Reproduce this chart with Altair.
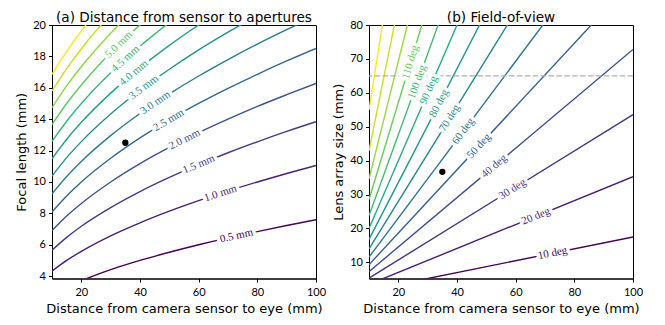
import altair as alt
import pandas as pd

# ---------------- (a) Distance from sensor to apertures ----------------
DIST = [10, 15, 20, 30, 40, 50, 60, 70, 80, 90, 100]
MM_LEVELS = [0.5, 1.0, 1.5, 2.0, 2.5, 3.0, 3.5, 4.0, 4.5, 5.0, 5.5, 6.0, 6.5]
FOCAL_05 = [2.79, 3.28, 3.70, 4.41, 5.00, 5.52, 6.00, 6.44, 6.84, 7.23, 7.59]
FOCAL_10 = [4.32, 5.00, 5.58, 6.57, 7.40, 8.14, 8.81, 9.43, 10.00, 10.54, 11.05]
FOCAL_15 = [5.65, 6.47, 7.18, 8.37, 9.39, 10.29, 11.10, 11.86, 12.56, 13.22, 13.84]
FOCAL_20 = [6.90, 7.83, 8.63, 10.00, 11.17, 12.20, 13.14, 14.00, 14.81, 15.56, 16.28]
FOCAL_25 = [8.09, 9.11, 10.00, 11.51, 12.81, 13.96, 15.00, 15.96, 16.86, 17.71, 18.51]
FOCAL_30 = [9.24, 10.35, 11.31, 12.95, 14.36, 15.61, 16.75, 17.80, 18.78, 19.70, 20.58]
FOCAL_35 = [10.37, 11.55, 12.57, 14.33, 15.84, 17.18, 18.41, 19.54, 20.60]
FOCAL_40 = [11.48, 12.72, 13.80, 15.66, 17.27, 18.70, 20.00, 21.20]
FOCAL_45 = [12.58, 13.87, 15.00, 16.96, 18.65, 20.16]
FOCAL_50 = [13.66, 15.00, 16.18, 18.23, 20.00, 21.58]
FOCAL_55 = [14.73, 16.12, 17.34, 19.47, 21.32]
FOCAL_60 = [15.80, 17.22, 18.49, 20.70]
FOCAL_65 = [16.86, 18.32, 19.62, 21.90]
FOCAL_CURVES = [FOCAL_05, FOCAL_10, FOCAL_15, FOCAL_20, FOCAL_25, FOCAL_30, FOCAL_35,
                FOCAL_40, FOCAL_45, FOCAL_50, FOCAL_55, FOCAL_60, FOCAL_65]

MM_LABEL_LEVEL = [0.5, 1.0, 1.5, 2.0, 2.5, 3.0, 3.5, 4.0, 4.5, 5.0]
MM_LABEL_TEXT = ["0.5 mm", "1.0 mm", "1.5 mm", "2.0 mm", "2.5 mm",
                 "3.0 mm", "3.5 mm", "4.0 mm", "4.5 mm", "5.0 mm"]
MM_LABEL_X = [72.9, 67.45, 60.05, 55.2, 49.8, 45.3, 41.3, 37.9, 35.06, 32.8]
MM_LABEL_Y = [6.56, 9.27, 11.11, 12.70, 13.93, 15.04, 16.02, 16.95, 17.84, 18.75]
MM_LABEL_ANGLE = [12.5, 18.1, 22.8, 26.8, 30.5, 33.9, 37.0, 39.8, 42.3, 44.5]

A_DOT_X = [35.0]
A_DOT_Y = [12.5]

# ---------------- (b) Field-of-view ----------------
FOV_LEVELS = [10, 20, 30, 40, 50, 60, 70, 80, 90, 100, 110, 120, 130, 140]
FOV_EDGE_X = [10, 100]
FOV_SIZE_AT_10 = [1.750, 3.527, 5.359, 7.279, 9.326, 11.55, 14.00, 16.78, 20.0,
                  23.84, 28.56, 34.64, 42.89, 54.95]
FOV_SIZE_AT_100 = [17.50, 35.27, 53.59, 72.79, 93.26, 115.5, 140.0, 167.8, 200.0,
                   238.4, 285.6, 346.4, 428.9, 549.5]

FOV_LABEL_LEVEL = [10, 20, 30, 40, 50, 60, 70, 80, 90, 100, 110]
FOV_LABEL_TEXT = ["10 deg", "20 deg", "30 deg", "40 deg", "50 deg", "60 deg",
                  "70 deg", "80 deg", "90 deg", "100 deg", "110 deg"]
FOV_LABEL_X = [72.6, 66.9, 58.9, 52.66, 47.49, 42.14, 37.51, 33.9, 30.39, 26.52, 24.16]
FOV_LABEL_Y = [12.70, 23.59, 31.56, 38.33, 44.29, 48.66, 52.53, 56.9, 60.78, 63.22, 69.0]
FOV_LABEL_ANGLE = [11.6, 22.4, 32.1, 40.5, 47.5, 53.5, 58.6, 63.0, 66.9, 70.3, 73.4]

B_DOT_X = [35.0]
B_DOT_Y = [36.7]
B_LIMIT = [65]

X_TICKS = [20, 40, 60, 80, 100]
A_Y_TICKS = [4, 6, 8, 10, 12, 14, 16, 18, 20]
B_Y_TICKS = [10, 20, 30, 40, 50, 60, 70, 80]

# ---------------- build tables ----------------
rows = []
for lev, ys in zip(MM_LEVELS, FOCAL_CURVES):
    for d, f in zip(DIST, ys):
        rows.append({"level": lev, "x": d, "y": f})
a_lines = pd.DataFrame(rows)
a_labels = pd.DataFrame({"level": MM_LABEL_LEVEL, "text": MM_LABEL_TEXT,
                         "x": MM_LABEL_X, "y": MM_LABEL_Y,
                         "angle": [360 - a for a in MM_LABEL_ANGLE]})
a_dot = pd.DataFrame({"x": A_DOT_X, "y": A_DOT_Y})

rows = []
for lev, y0, y1 in zip(FOV_LEVELS, FOV_SIZE_AT_10, FOV_SIZE_AT_100):
    rows.append({"level": lev, "x": FOV_EDGE_X[0], "y": y0})
    rows.append({"level": lev, "x": FOV_EDGE_X[1], "y": y1})
b_lines = pd.DataFrame(rows)
b_labels = pd.DataFrame({"level": FOV_LABEL_LEVEL, "text": FOV_LABEL_TEXT,
                         "x": FOV_LABEL_X, "y": FOV_LABEL_Y,
                         "angle": [360 - a for a in FOV_LABEL_ANGLE]})
b_dot = pd.DataFrame({"x": B_DOT_X, "y": B_DOT_Y})
b_limit = pd.DataFrame({"y": B_LIMIT})

SANS = "Lato"
TITLE_FONT = "DejaVu Sans"
SERIF = "Liberation Serif"
W, H = 264, 253.5
LABEL_SIZE = 11


def panel(lines, labels, dot, ydom, yticks, ytitle, title, cdom, interp, extra=None):
    xs = alt.Scale(domain=[10, 100], nice=False, zero=False)
    ys = alt.Scale(domain=ydom, nice=False, zero=False)
    cs = alt.Scale(scheme="viridis", domain=cdom)
    xax = alt.Axis(values=X_TICKS, title="Distance from camera sensor to eye (mm)",
                   labelOverlap=False, labelFlush=False)
    yax = alt.Axis(values=yticks, title=ytitle, labelOverlap=False, labelFlush=False)
    X = alt.X("x:Q", scale=xs, axis=xax)
    Y = alt.Y("y:Q", scale=ys, axis=yax)
    base_line = alt.Chart(lines).mark_line(clip=True, strokeWidth=1.4, interpolate=interp).encode(
        x=X, y=Y,
        color=alt.Color("level:Q", scale=cs, legend=None),
        detail="level:N",
    )
    halo = alt.Chart(labels).mark_text(
        font=SERIF, fontSize=LABEL_SIZE, fill="white", stroke="white",
        strokeWidth=7, strokeJoin="round", align="center", baseline="middle"
    ).encode(x=X, y=Y, text="text:N", angle=alt.Angle("angle:Q", scale=None))
    txt = alt.Chart(labels).mark_text(
        font=SERIF, fontSize=LABEL_SIZE, align="center", baseline="middle"
    ).encode(x=X, y=Y, text="text:N", angle=alt.Angle("angle:Q", scale=None),
             color=alt.Color("level:Q", scale=cs, legend=None))
    pt = alt.Chart(dot).mark_point(filled=True, color="black", size=40, opacity=1).encode(
        x=X, y=Y)
    layers = [base_line]
    if extra is not None:
        layers.append(extra(X, Y))
    layers += [halo, txt, pt]
    return alt.layer(*layers).properties(
        width=W, height=H,
        title=alt.Title(title, font=TITLE_FONT, fontSize=13.6, fontWeight="normal",
                        color="black", offset=-5.5),
    )


def limit_rule(X, Y):
    return alt.Chart(b_limit).mark_rule(color="#b0b0b0", strokeWidth=1.4,
                                        strokeDash=[5.5, 2.4]).encode(y=Y)


left = panel(a_lines, a_labels, a_dot, [3.85, 20], A_Y_TICKS,
             "Focal length (mm)", "(a) Distance from sensor to apertures", [0.5, 6.5], "monotone")
right = panel(b_lines, b_labels, b_dot, [5.25, 80], B_Y_TICKS,
              "Lens array size (mm)", "(b) Field-of-view", [10, 140], "linear", extra=limit_rule)

chart = alt.hconcat(left, right, spacing=5).resolve_scale(color="independent").properties(
    padding={"left": 7, "top": 2, "right": 0, "bottom": 0}
).configure_view(stroke="black", strokeWidth=1).configure_axis(
    grid=False, labelFont=SANS, labelFontSize=11, labelColor="black",
    titleFont=TITLE_FONT, titleFontSize=13, titleFontWeight="normal", titleColor="black",
    tickColor="black", tickSize=3.5, domainColor="black", labelPadding=3, titlePadding=4,
).configure_axisX(labelPadding=4, titlePadding=5.5)

chart.save("out.html", embed_options={"renderer": "svg", "actions": False})
